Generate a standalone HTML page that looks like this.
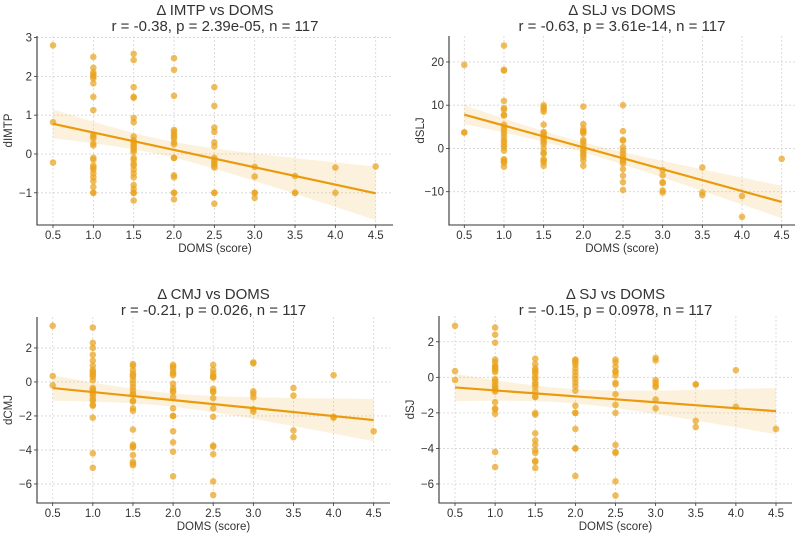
<!DOCTYPE html>
<html><head><meta charset="utf-8"><style>
body{margin:0;background:#fff}
svg{display:block;font-family:"Liberation Sans","DejaVu Sans",sans-serif}
</style></head><body>
<svg id="fig" width="799" height="534" viewBox="0 0 799 534" xmlns="http://www.w3.org/2000/svg"></svg>
<script>
const domsLevels = [0.5,1.0,1.5,2.0,2.5,3.0,3.5,4.0,4.5];
const xTickLabels = ["0.5","1.0","1.5","2.0","2.5","3.0","3.5","4.0","4.5"];
const imtpValues = [
 [2.8,0.82,-0.22],
 [2.5,2.22,2.1,2.05,2.0,1.95,1.82,1.47,1.13,0.5,0.45,0.4,0.27,0.22,-0.1,-0.15,-0.3,-0.35,-0.4,-0.5,-0.6,-0.7,-0.85,-1.0,-1.0],
 [2.58,2.42,1.72,1.47,1.45,0.93,0.82,0.45,0.35,0.3,0.25,0.2,0.15,0.1,0.05,-0.1,-0.15,-0.25,-0.3,-0.4,-0.5,-0.6,-0.8,-0.9,-1.0,-1.0,-1.2],
 [2.47,2.17,1.5,0.62,0.57,0.5,0.45,0.4,0.3,0.25,-0.1,-0.1,-0.55,-0.6,-1.0,-1.0,-1.17],
 [1.72,1.24,0.68,0.57,0.3,0.2,-0.1,-0.15,-0.2,-0.25,-0.3,-0.35,-1.0,-1.0,-1.28],
 [-0.33,-0.58,-1.0,-1.0,-1.13],
 [-0.57,-1.0,-1.0],
 [-0.35,-1.0],
 [-0.32]];
const sljValues = [
 [19.3,3.7,3.7],
 [23.8,18.2,18.0,11,9.3,9.0,7.8,7.6,5.5,4.8,4.2,3.5,2.8,2.0,1.5,0.8,0.3,-0.5,-2.5,-2.8,-3.0,-3.3,-4.2],
 [10,9.5,9.0,8.5,5.5,3.8,3.5,3.0,2.5,2.0,1.5,1.0,0,-1.0,-1.2,-2.5,-2.8,-3.2,-4.0],
 [9.7,5.6,4.5,4.0,3.8,3.5,2.0,1.5,0.8,0,-0.5,-1.0,-1.5,-2.0,-2.8,-4.0],
 [10,4.0,2.0,1.8,0.3,-0.5,-1.2,-2.0,-2.5,-3.0,-3.5,-4.8,-6.3,-7.8,-9.6],
 [-5,-6.2,-7.8,-8.0,-9.7,-10.2],
 [-4.4,-10.2,-10.8],
 [-11,-15.8],
 [-2.4]];
const cmjValues = [
 [3.3,0.35,-0.2],
 [3.2,2.3,2.0,1.6,1.25,0.95,0.7,0.6,0.5,0.4,0.3,0.1,-0.35,-0.45,-0.55,-0.65,-0.8,-1.0,-1.1,-1.35,-1.4,-2.1,-4.2,-5.05],
 [1.05,0.95,0.7,0.5,0.4,0.3,0.1,-0.1,-0.3,-0.5,-0.7,-0.75,-1.1,-1.15,-1.55,-1.7,-2.8,-3.7,-3.8,-3.85,-4.3,-4.7,-4.8,-4.9],
 [1.0,0.9,0.8,0.6,0.5,0.4,-0.1,-0.35,-0.5,-0.6,-0.9,-1.55,-2.0,-2.0,-2.9,-3.55,-4.1,-5.55],
 [1.0,0.7,0.5,0.35,0.3,0.25,-0.4,-0.55,-0.6,-0.95,-1.55,-2.05,-3.75,-3.8,-4.25,-5.85,-6.65],
 [1.15,1.1,-0.55,-0.7,-0.9,-1.6,-1.75],
 [-0.35,-0.8,-2.85,-3.25],
 [0.4,-2.05,-2.1],
 [-2.9]];
const sjValues = [
 [2.9,0.35,-0.15],
 [2.8,2.4,1.95,1.0,0.85,0.65,0.6,0.5,0.4,0.3,-0.1,-0.2,-0.35,-0.5,-0.6,-0.7,-0.8,-1.4,-1.75,-1.8,-2.05,-4.2,-5.05],
 [1.05,0.75,0.5,0.4,0.3,0.2,0.0,-0.1,-0.3,-0.4,-0.55,-0.8,-1.1,-1.1,-2.0,-2.1,-3.15,-3.55,-3.8,-4.1,-4.25,-4.7,-4.75,-5.1],
 [1.0,0.95,0.85,0.7,0.5,0.3,0.1,-0.1,-0.3,-0.5,-0.75,-1.6,-2.0,-2.0,-2.9,-4.0,-4.0,-5.55],
 [1.0,0.85,0.6,0.35,0.3,0.1,-0.3,-0.4,-0.95,-1.55,-2.0,-3.8,-4.2,-4.25,-5.85,-6.65],
 [1.1,0.95,-0.15,-0.3,-0.45,-0.55,-1.25,-1.75],
 [-0.4,-0.4,-2.45,-2.8],
 [0.4,-1.65],
 [-2.9]];
const imtpYTicks = [-1,0,1,2,3];
const sljYTicks = [-10,0,10,20];
const cmjYTicks = [-6,-4,-2,0,2];
const sjYTicks = [-6,-4,-2,0,2];
const titles = ["Δ IMTP vs DOMS","Δ SLJ vs DOMS","Δ CMJ vs DOMS","Δ SJ vs DOMS"];
const statLines = ["r = -0.38, p = 2.39e-05, n = 117","r = -0.63, p = 3.61e-14, n = 117","r = -0.21, p = 0.026, n = 117","r = -0.15, p = 0.0978, n = 117"];
const yLabels = ["dIMTP","dSLJ","dCMJ","dSJ"];

const NS="http://www.w3.org/2000/svg";
const svg=document.getElementById('fig');
function mk(tag,attrs,parent){const e=document.createElementNS(NS,tag);for(const k in attrs)e.setAttribute(k,attrs[k]);(parent||svg).appendChild(e);return e;}

const panels=[
 {L:37,R:393,T:36,B:225,y0:-1.83,y1:3.04,vals:imtpValues,yt:imtpYTicks},
 {L:449,R:795,T:36,B:225,y0:-17.7,y1:26.0,vals:sljValues,yt:sljYTicks},
 {L:37,R:390,T:317,B:503,y0:-7.12,y1:3.82,vals:cmjValues,yt:cmjYTicks},
 {L:439,R:792,T:316,B:503,y0:-7.07,y1:3.45,vals:sjValues,yt:sjYTicks}
];

panels.forEach((p,i)=>{
 const xpos=[[53,375.7],[464.3,781.7],[52.7,373.7],[455,776]][i];
 const kx=(xpos[1]-xpos[0])/4;
 const X=v=>xpos[0]+(v-0.5)*kx;
 const Y=v=>p.B-(v-p.y0)/(p.y1-p.y0)*(p.B-p.T);
 const g=mk('g',{});
 
 
 domsLevels.forEach((v,j)=>{
  const l=mk('line',{x1:X(v),x2:X(v),y1:p.T,y2:p.B,stroke:'#d4d4d4','stroke-width':0.8,'stroke-dasharray':'2,2'},g);
  
  
  const t=mk('text',{x:X(v),y:p.B+14,'font-size':11.5,fill:'#333','text-anchor':'middle'},g);
  t.textContent=xTickLabels[j];
  
  
  mk('line',{x1:X(v),x2:X(v),y1:p.B,y2:p.B+3,stroke:'#333','stroke-width':0.8},g);
 });
 p.yt.forEach(v=>{
  const l=mk('line',{x1:p.L,x2:p.R,y1:Y(v),y2:Y(v),stroke:'#d4d4d4','stroke-width':0.8,'stroke-dasharray':'2,2'},g);
  
  
  mk('line',{x1:p.L-3,x2:p.L,y1:Y(v),y2:Y(v),stroke:'#333','stroke-width':0.8},g);
  const t=mk('text',{x:p.L-5,y:Y(v)+4,'font-size':11.5,fill:'#333','text-anchor':'end'},g);
  t.textContent=(v<0?'\u2212'+(-v):String(v));
  
  
 });
 const xs=[],ys=[];
 p.vals.forEach((arr,j)=>arr.forEach(v=>{xs.push(domsLevels[j]);ys.push(v);}));
 const n=xs.length,mx=xs.reduce((a,b)=>a+b)/n,my=ys.reduce((a,b)=>a+b)/n;
 let sxx=0,sxy=0;xs.forEach((x,k)=>{sxx+=(x-mx)**2;sxy+=(x-mx)*(ys[k]-my);});
 const b=sxy/sxx,a=my-b*mx;
 let sse=0;xs.forEach((x,k)=>{sse+=(ys[k]-a-b*x)**2;});
 const s=Math.sqrt(sse/(n-2)),tcrit=1.98;
 const up=[],lo=[];
 for(let k=0;k<=40;k++){const x=0.5+4*k/40;const h=tcrit*s*Math.sqrt(1/n+(x-mx)**2/sxx);const yh=a+b*x;up.push(X(x)+','+Y(yh+h));lo.unshift(X(x)+','+Y(yh-h));}
 const band=mk('polygon',{points:up.concat(lo).join(' '),fill:'rgba(244,196,110,0.24)'},g);
 
 
 p.vals.forEach((arr,j)=>arr.forEach(v=>{
  const c=mk('circle',{cx:X(domsLevels[j]),cy:Y(v),r:3.3,fill:'rgba(233,163,30,0.72)'},g);
  
  
 }));
 const rl=mk('line',{x1:X(0.5),y1:Y(a+b*0.5),x2:X(4.5),y2:Y(a+b*4.5),stroke:'#eb9a0e','stroke-width':2.2},g);
 
 
 const sp=mk('path',{d:`M${p.L},${p.T} V${p.B} H${p.R}`,fill:'none',stroke:'#333','stroke-width':1.1},g);
 
 
 const cx=(p.L+p.R)/2, top=i<2?0:284;
 const t1=mk('text',{x:cx,y:top+15,'font-size':15,fill:'#333','text-anchor':'middle'},g);
 t1.textContent=titles[i];
 
 
 const t2=mk('text',{x:cx,y:top+31,'font-size':15,fill:'#333','text-anchor':'middle'},g);
 t2.textContent=statLines[i];
 
 
 const xl=mk('text',{x:cx,y:p.B+27,'font-size':11.5,fill:'#333','text-anchor':'middle'},g);
 xl.textContent='DOMS (score)';
 
 
 const ylx=p.L-25, yly=(p.T+p.B)/2;
 const yl=mk('text',{x:ylx,y:yly,'font-size':11.5,fill:'#333','text-anchor':'middle',transform:`rotate(-90 ${ylx} ${yly})`},g);
 yl.textContent=yLabels[i];
 
 
});
</script>
</body></html>
